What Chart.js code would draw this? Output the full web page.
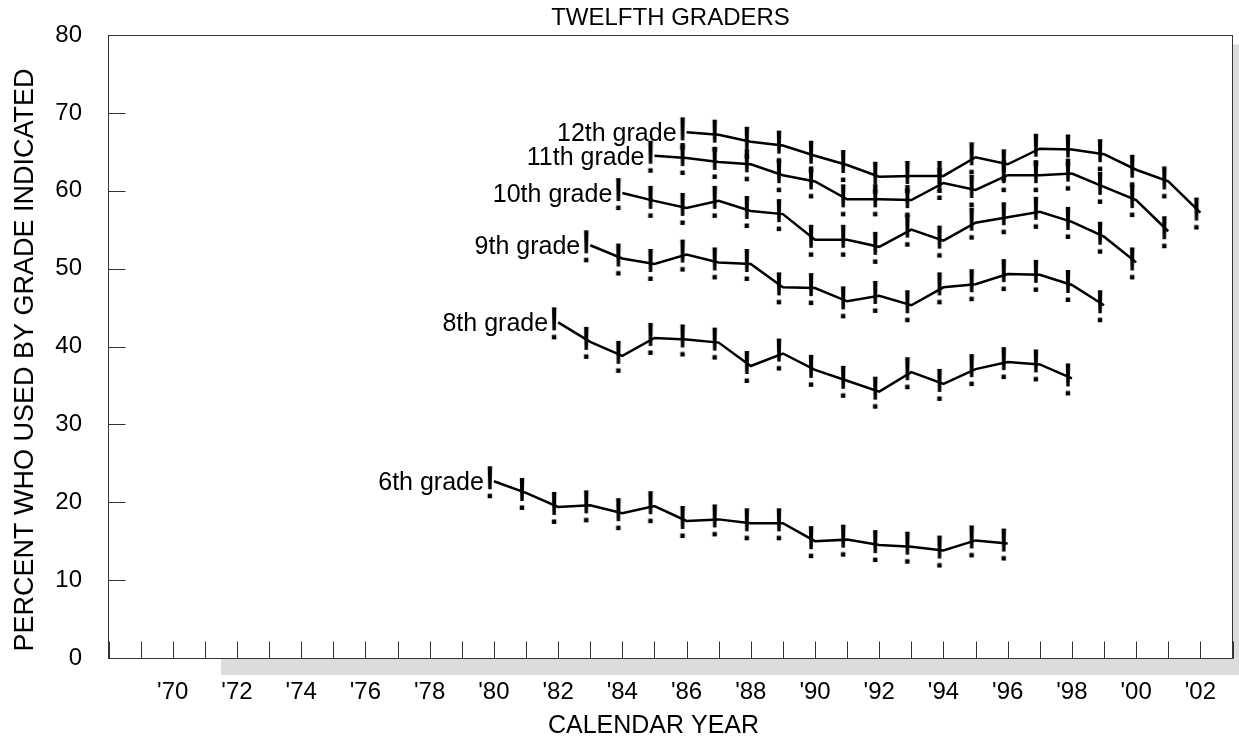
<!DOCTYPE html>
<html>
<head>
<meta charset="utf-8">
<script src="https://cdn.jsdelivr.net/npm/chart.js@4.4.0/dist/chart.umd.min.js"></script>
<style>
  html, body { margin: 0; padding: 0; background: #fff; }
  #chart { display: block; }
</style>
</head>
<body>
<canvas id="chart" width="1239" height="737"></canvas>
<script>
const FONT = '"Liberation Sans", Arial, Helvetica, sans-serif';

// x axis ticks that carry a label
const tickYears  = [1970, 1972, 1974, 1976, 1978, 1980, 1982, 1984, 1986, 1988, 1990, 1992, 1994, 1996, 1998, 2000, 2002];
const tickLabels = ["'70", "'72", "'74", "'76", "'78", "'80", "'82", "'84", "'86", "'88", "'90", "'92", "'94", "'96", "'98", "'00", "'02"];

// one line per grade, first survey year of each
const seriesNames = ['12th grade', '11th grade', '10th grade', '9th grade', '8th grade', '6th grade'];
const firstYears  = [1986, 1985, 1984, 1983, 1982, 1980];

const grade12 = [67.5, 67.2, 66.3, 65.8, 64.5, 63.3, 61.8, 61.9, 61.9, 64.3, 63.4, 65.4, 65.3, 64.7, 62.7, 61.2, 57.2];
const grade11 = [64.5, 64.2, 63.7, 63.4, 62.0, 61.2, 58.9, 58.9, 58.8, 61.0, 60.1, 62.0, 62.0, 62.2, 60.5, 58.8, 54.8];
const grade10 = [59.7, 58.7, 57.8, 58.7, 57.4, 57.0, 53.7, 53.7, 52.8, 55.0, 53.6, 55.9, 56.6, 57.3, 56.0, 54.1, 50.8];
const grade9  = [53.0, 51.3, 50.6, 51.8, 50.8, 50.6, 47.6, 47.5, 45.8, 46.5, 45.3, 47.6, 48.0, 49.3, 49.2, 47.9, 45.3];
const grade8  = [43.1, 40.6, 38.8, 41.1, 40.9, 40.5, 37.5, 39.1, 37.0, 35.6, 34.2, 36.7, 35.2, 37.1, 38.0, 37.7, 35.9];
const grade6  = [22.7, 21.2, 19.4, 19.6, 18.6, 19.5, 17.6, 17.8, 17.3, 17.3, 15.0, 15.2, 14.5, 14.3, 13.8, 15.1, 14.7];

const allSeries = [grade12, grade11, grade10, grade9, grade8, grade6];

// the "!" marker drawn at every point
function makeBang() {
    const c = document.createElement('canvas');
    c.width = 16;
    c.height = 40;
    const g = c.getContext('2d');
    g.fillStyle = '#000';
    g.font = '47px ' + FONT;
    g.textAlign = 'center';
    g.textBaseline = 'alphabetic';
    g.fillText('!', 4, 20 + 0.358 * 47);
    return c;
}
const bang = makeBang();

const framePlugin = {
    id: 'frame',
    beforeDatasetsDraw(chart) {
        const { ctx, chartArea: a, scales: { x, y } } = chart;
        const L = Math.floor(a.left) + 0.5;
        const R = Math.round(a.right) - 0.5;
        const T = Math.round(a.top) + 0.5;
        const B = Math.round(a.bottom) + 0.5;
        ctx.save();
        // grey shadow under and right of the box
        ctx.fillStyle = '#dcdcdc';
        const sx = x.getPixelForValue(1971.5);
        ctx.fillRect(sx, B + 0.5, chart.width - sx, 16);
        ctx.fillRect(R + 0.5, T + 9, chart.width - R, B - T + 7);

        ctx.strokeStyle = '#333';
        ctx.lineWidth = 1;
        ctx.strokeRect(L, T, R - L, B - T);

        ctx.beginPath();
        y.ticks.forEach(t => {
            const py = Math.round(y.getPixelForValue(t.value)) + 0.5;
            ctx.moveTo(L, py);
            ctx.lineTo(L + 17, py);
        });
        x.ticks.forEach(t => {
            const px = Math.round(x.getPixelForValue(t.value)) + 0.5;
            ctx.moveTo(px, B);
            ctx.lineTo(px, B - 17);
        });
        ctx.stroke();
        ctx.restore();
    },
    afterDatasetsDraw(chart) {
        const { ctx, chartArea: a } = chart;
        ctx.save();
        ctx.fillStyle = '#000';
        ctx.textBaseline = 'alphabetic';

        // grade labels in front of each line
        ctx.font = '25px ' + FONT;
        ctx.textAlign = 'right';
        chart.data.datasets.forEach((ds, i) => {
            const p = chart.getDatasetMeta(i).data[0];
            ctx.fillText(ds.label, p.x - 10, p.y + 0.358 * 25);
        });

        const cx = (a.left + a.right) / 2;
        ctx.textAlign = 'center';
        ctx.font = '24px ' + FONT;
        ctx.fillText('TWELFTH GRADERS', cx, 25);

        ctx.font = '25px ' + FONT;
        ctx.fillText('CALENDAR YEAR', cx - 17, 733);

        ctx.translate(33, 360);
        ctx.rotate(-Math.PI / 2);
        ctx.font = '27px ' + FONT;
        ctx.fillText('PERCENT WHO USED BY GRADE INDICATED', 0, 0);
        ctx.restore();
    }
};

const datasets = allSeries.map((vals, i) => ({
    label: seriesNames[i],
    data: vals.map((v, k) => ({ x: firstYears[i] + k, y: v })),
    borderColor: '#000',
    borderWidth: 2.5,
    tension: 0,
    fill: false,
    pointStyle: bang,
    pointRadius: 3
}));

new Chart(document.getElementById('chart'), {
    type: 'line',
    data: { datasets },
    options: {
        responsive: false,
        animation: false,
        devicePixelRatio: 1,
        layout: { padding: { top: 35, right: 4, left: 0, bottom: 0 } },
        plugins: { legend: { display: false }, tooltip: { enabled: false } },
        scales: {
            x: {
                type: 'linear',
                min: 1968,
                max: 2003,
                afterFit: s => {
                    s.height = 79;
                    s.paddingLeft = 0;
                    s.paddingRight = 0;
                },
                grid: { display: false, drawTicks: false },
                border: { display: false },
                ticks: {
                    stepSize: 1,
                    autoSkip: false,
                    maxRotation: 0,
                    padding: 20,
                    color: '#000',
                    font: { family: FONT, size: 24 },
                    callback: v => {
                        const i = tickYears.indexOf(v);
                        return i < 0 ? '' : tickLabels[i];
                    }
                }
            },
            y: {
                min: 0,
                max: 80,
                afterFit: s => {
                    s.width = 108.5;
                    s.paddingTop = 0;
                    s.paddingBottom = 0;
                },
                grid: { display: false, drawTicks: false },
                border: { display: false },
                ticks: {
                    stepSize: 10,
                    padding: 26.5,
                    color: '#000',
                    font: { family: FONT, size: 24 }
                }
            }
        }
    },
    plugins: [framePlugin]
});
</script>
</body>
</html>
